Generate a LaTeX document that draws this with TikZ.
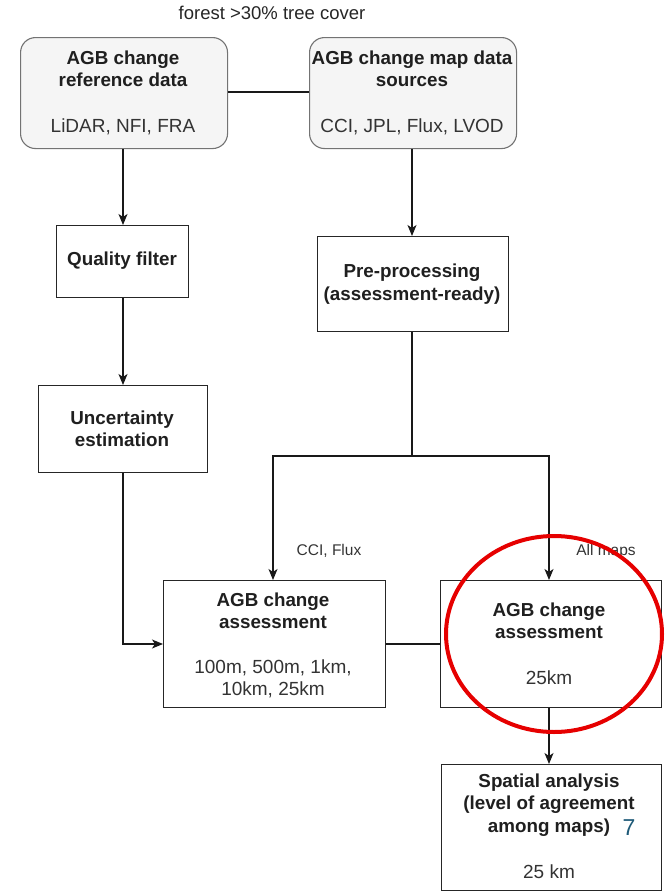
\documentclass[tikz,border=0pt]{standalone}
\usepackage{fontspec}
\setmainfont{Liberation Sans}
\usetikzlibrary{arrows.meta,shapes.geometric}
\begin{document}
\begin{tikzpicture}[x=1pt,y=-1pt,
  box/.style={draw=black!85,line width=1.3pt,inner sep=0pt,anchor=north west},
  rbox/.style={draw=black!55,fill=black!4,line width=1.1pt,rounded corners=15pt,inner sep=0pt,anchor=north west},
  ttl/.style={font=\fontsize{18.8}{22.5}\selectfont\bfseries,text=black!88,align=center,inner sep=0pt},
  sub/.style={font=\fontsize{19}{22.5}\selectfont,text=black!80,align=center,inner sep=0pt},
  lbl/.style={font=\fontsize{15.5}{17}\selectfont,text=black!80,inner sep=0pt},
  conn/.style={line width=1.3pt,draw=black!90},
  arr/.style={conn,-{Stealth[length=11pt,width=9pt,inset=3pt]}}]
\useasboundingbox (0,0) rectangle (669,892);
% top label
\node[font=\fontsize{18.5}{20}\selectfont,text=black!85,inner sep=0pt] (top) at (272,13) {forest >30\% tree cover};
% top boxes
\node[rbox,minimum width=207pt,minimum height=111pt] (ref) at (20,37) {};
\node[ttl] (refT) at (123,69) {AGB change\\reference data};
\node[sub] (refS) at (123,127) {LiDAR, NFI, FRA};
\node[rbox,minimum width=207pt,minimum height=111pt] (map) at (309,37) {};
\node[ttl] (mapT) at (412,69) {AGB change map data\\sources};
\node[sub] (mapS) at (412,127) {CCI, JPL, Flux, LVOD};
% process boxes
\node[box,minimum width=132pt,minimum height=72pt] (qf) at (56,225) {};
\node[ttl] (qfT) at (122,261) {Quality filter};
\node[box,minimum width=191pt,minimum height=95pt] (pp) at (317,236) {};
\node[ttl] (ppT) at (412,284) {Pre-processing\\(assessment-ready)};
\node[box,minimum width=169pt,minimum height=87pt] (ue) at (38,385) {};
\node[ttl] (ueT) at (122,429) {Uncertainty\\estimation};
\node[box,minimum width=222pt,minimum height=127pt] (la) at (163,580) {};
\node[ttl] (laT) at (273,611) {AGB change\\assessment};
\node[sub] (laS) at (273,679) {100m, 500m, 1km,\\10km, 25km};
\node[box,minimum width=221pt,minimum height=127pt] (ra) at (440,580) {};
\node[ttl] (raT) at (549,621) {AGB change\\assessment};
\node[sub] (raS) at (549,678) {25km};
\node[box,minimum width=220pt,minimum height=126pt] (sa) at (441,764) {};
\node[ttl] (saT) at (549,805) {Spatial analysis\\(level of agreement\\\hspace*{22pt}among maps)\hspace*{22pt}};
\node[font=\fontsize{23}{24}\selectfont,text={rgb,255:red,30;green,90;blue,120},inner sep=0pt] (seven) at (629,828) {7};
\node[sub] (saS) at (549,872) {25 km};
% labels
\node[lbl] (l1) at (329,551) {CCI, Flux};
\node[lbl] (l2) at (606,551) {All maps};
% connectors
\draw[conn] (ref.east |- 0,92) -- (map.west |- 0,92);
\draw[arr] (ref.south -| 123,0) -- (qf.north -| 123,0);
\draw[arr] (map.south -| 412,0) -- (pp.north -| 412,0);
\draw[arr] (qf.south -| 123,0) -- (ue.north -| 123,0);
\coordinate (split) at (412,456);
\draw[conn] (pp.south -| 412,0) -- (split);
\draw[arr] (split) -- (273,456) -- (la.north -| 273,0);
\draw[arr] (split) -- (549,456) -- (ra.north -| 549,0);
\draw[arr] (ue.south -| 123,0) -- (123,644) -- (la.west |- 0,644);
\draw[conn] (la.east |- 0,644) -- (ra.west |- 0,644);
\draw[arr] (ra.south -| 549,0) -- (sa.north -| 549,0);
% red ellipse
\node[draw={rgb,255:red,230;green,0;blue,0},line width=4pt,ellipse,minimum width=216pt,minimum height=196pt,inner sep=0pt] (circ) at (554,634) {};
\end{tikzpicture}
\end{document}
